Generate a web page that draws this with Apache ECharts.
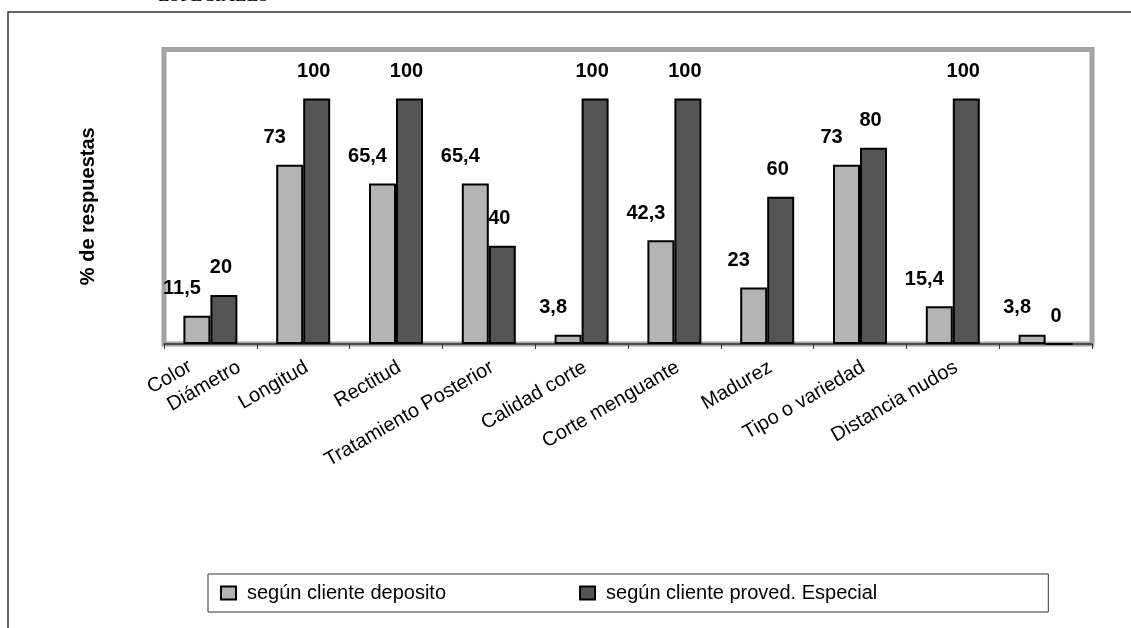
<!DOCTYPE html>
<html>
<head>
<meta charset="utf-8">
<script src="https://cdn.jsdelivr.net/npm/echarts@6/dist/echarts.min.js"></script>
<style>
  html, body { margin: 0; padding: 0; background: #ffffff; }
  #chart { width: 1131px; height: 628px; }
</style>
</head>
<body>
<div id="chart"></div>
<script>
// Category tick labels (the first tick carries two stacked names, the last none)
const categoryLabels = [
  'Color\nDiámetro', 'Longitud', 'Rectitud', 'Tratamiento Posterior',
  'Calidad corte', 'Corte menguante', 'Madurez', 'Tipo o variedad',
  'Distancia nudos', ''
];
const seriesNames = ['según cliente deposito', 'según cliente proved. Especial'];
// % de respuestas per category
const deposito  = [11.5, 73, 65.4, 65.4, 3.8, 42.3, 23, 73, 15.4, 3.8];
const proveedor = [20, 100, 100, 40, 100, 100, 60, 80, 100, 0];

const FONT = '"Liberation Sans", Arial, sans-serif';
const decimalComma = v => String(v).replace('.', ',');

function valueLabel(dx) {
  return {
    show: true,
    position: 'top',
    distance: 17,
    offset: [dx, 0],
    color: '#000',
    fontFamily: FONT,
    fontWeight: 'bold',
    fontSize: 20,
    formatter: p => decimalComma(p.value)
  };
}

// Rotated axis labels: single names use style "b"; a stacked label pushes its
// upper name back along the text direction and the whole block a little forward.
function axisLabelText(v) {
  const lines = v.split('\n');
  if (lines.length === 1) return '{b|' + v + '}';
  const last = lines.pop();
  return lines.map(l => '{lead|' + l + '}').join('\n') + '\n{tail|' + last + '}';
}

const labelBase = { fontFamily: FONT, fontSize: 20, lineHeight: 25, color: '#000' };

const chart = echarts.init(document.getElementById('chart'), null, { renderer: 'canvas' });

chart.setOption({
  animation: false,
  backgroundColor: '#ffffff',
  title: {
    text: 'ESPECIALES',
    left: 158,
    top: -13,
    padding: 0,
    textStyle: {
      fontFamily: '"Liberation Serif", "Times New Roman", serif',
      fontWeight: 'normal',
      fontSize: 19,
      color: '#000'
    }
  },
  graphic: [{
    type: 'rect',
    shape: { x: 8, y: 12, width: 1200, height: 700 },
    style: { fill: 'none', stroke: '#333', lineWidth: 1.5 },
    silent: true,
    z: -1
  }],
  grid: {
    left: 164,
    right: 39,
    top: 49.5,
    bottom: 284,
    show: true,
    borderColor: '#a3a3a3',
    borderWidth: 5,
    backgroundColor: '#ffffff'
  },
  legend: {
    left: 208,
    top: 574,
    orient: 'horizontal',
    padding: [9, 171, 9, 12],
    itemGap: 133,
    itemWidth: 15,
    itemHeight: 13,
    borderColor: '#333',
    borderWidth: 1,
    icon: 'rect',
    textStyle: { fontFamily: FONT, fontSize: 20, color: '#000', padding: [0, 0, 0, 6] },
    data: seriesNames
  },
  xAxis: {
    type: 'category',
    data: categoryLabels,
    boundaryGap: true,
    axisLine: { show: true, lineStyle: { color: '#333', width: 1.5 } },
    axisTick: { show: true, length: 5, alignWithLabel: false, lineStyle: { color: '#333', width: 1 } },
    axisLabel: {
      interval: 0,
      rotate: 30,
      margin: 24,
      color: '#000',
      fontFamily: FONT,
      fontSize: 20,
      formatter: axisLabelText,
      rich: {
        b: Object.assign({ padding: [0, -4, 0, 0] }, labelBase),
        lead: Object.assign({ padding: [0, 16, 0, 0] }, labelBase),
        tail: Object.assign({ padding: [0, -26, 0, 0] }, labelBase)
      }
    },
    splitLine: { show: false }
  },
  yAxis: {
    type: 'value',
    min: 0,
    max: 120,
    name: '% de respuestas',
    nameLocation: 'middle',
    nameRotate: 90,
    nameGap: 66,
    nameTextStyle: { fontFamily: FONT, fontWeight: 'bold', fontSize: 20, color: '#000', padding: [0, 19, 0, 0] },
    axisLine: { show: false },
    axisTick: { show: false },
    axisLabel: { show: false },
    splitLine: { show: false }
  },
  series: [
    {
      name: seriesNames[0],
      type: 'bar',
      data: deposito,
      barWidth: 27,
      barGap: '0%',
      itemStyle: { color: '#b4b4b4', borderColor: '#000', borderWidth: 2 },
      label: valueLabel(-15)
    },
    {
      name: seriesNames[1],
      type: 'bar',
      data: proveedor,
      barWidth: 27,
      barGap: '0%',
      itemStyle: { color: '#545454', borderColor: '#000', borderWidth: 2 },
      label: valueLabel(-3)
    }
  ]
});
</script>
</body>
</html>
